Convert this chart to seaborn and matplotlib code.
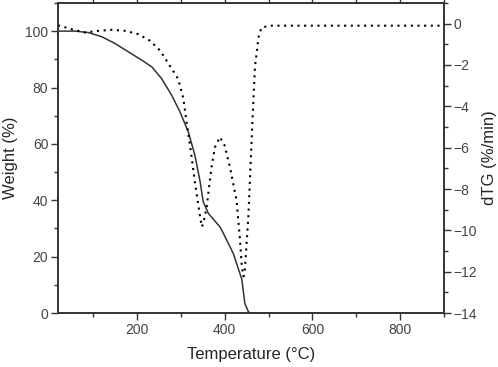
import numpy as np
import pandas as pd
import matplotlib
matplotlib.use("Agg")
import matplotlib.pyplot as plt
import seaborn as sns
from matplotlib.ticker import MultipleLocator

# weight loss curve (TG)
tg_temp = [20, 59, 89, 120, 150, 180, 211, 234, 256, 279, 298, 317, 332, 344,
           351, 363, 389, 397, 420, 439, 446, 454, 458, 500, 600, 700, 800, 900]
tg_weight = [100, 100, 99.5, 98, 95.6, 92.7, 89.7, 87.3, 83.2, 77.3, 71.4, 64.3,
             56, 46.6, 39.5, 35.3, 30.6, 28.3, 21, 12, 3.4, 0.5, 0, 0, 0, 0, 0, 0]

# derivative curve (dTG)
dtg_temp = [20, 51, 82, 112, 142, 173, 203, 230, 253, 275, 294, 306, 313, 321,
            328, 332, 338, 344, 348, 352, 359, 370, 378, 389, 400, 412, 427, 435,
            439, 443, 446, 454, 462, 469, 477, 484, 503, 600, 700, 800, 900]
dtg_rate = [-0.08, -0.27, -0.43, -0.35, -0.3, -0.35, -0.51, -0.83, -1.31, -2.04,
            -2.68, -3.64, -4.77, -5.89, -7.01, -7.66, -8.5, -9.35, -9.83, -9.6,
            -8.86, -6.94, -5.97, -5.49, -5.9, -6.94, -8.54, -10.47, -11.75,
            -12.23, -11.9, -9.35, -5.33, -2.12, -0.67, -0.19, -0.1, -0.1, -0.1,
            -0.1, -0.1]

tg = pd.DataFrame({"Temperature": tg_temp, "Weight": tg_weight})
dtg = pd.DataFrame({"Temperature": dtg_temp, "dTG": dtg_rate})

sns.set_style("ticks")
plt.rcParams["font.family"] = ["Liberation Sans", "DejaVu Sans"]

fig = plt.figure(figsize=(4.98, 3.67), dpi=100)
ax = fig.add_axes([0.1165, 0.147, 0.775, 0.845])

sns.lineplot(data=tg, x="Temperature", y="Weight", ax=ax, color="#333333",
             linewidth=1.1)
ax2 = ax.twinx()
sns.lineplot(data=dtg, x="Temperature", y="dTG", ax=ax2, color="black",
             linestyle=(0, (1, 2.2)), linewidth=1.5)

ax.set_xlim(20, 900)
ax.set_ylim(0, 110)
ax2.set_ylim(-14, 1)

ax.xaxis.set_major_locator(MultipleLocator(200))
ax.xaxis.set_minor_locator(MultipleLocator(100))
ax.yaxis.set_major_locator(MultipleLocator(20))
ax.yaxis.set_minor_locator(MultipleLocator(10))
ax2.yaxis.set_major_locator(MultipleLocator(2))
ax2.yaxis.set_minor_locator(MultipleLocator(1))

ax.set_xlabel("Temperature (°C)", fontsize=12)
ax.set_ylabel("Weight (%)", fontsize=12)
ax2.set_ylabel("dTG (%/min)", fontsize=12)
ax.xaxis.set_label_coords(0.5, -0.11)
ax.yaxis.set_label_coords(-0.104, 0.5)
ax2.yaxis.set_label_coords(1.098, 0.5)

for a in (ax, ax2):
    for s in a.spines.values():
        s.set_visible(True)
        s.set_color("#333333")
        s.set_linewidth(1.2)
    a.tick_params(which="major", length=5, width=1, color="#333333",
                  labelsize=10, labelcolor="#444444", pad=2)
    a.tick_params(which="minor", length=3, width=1, color="#333333")

ax.tick_params(axis="x", which="both", top=True, direction="out")

fig.savefig("out.png", dpi=100)
